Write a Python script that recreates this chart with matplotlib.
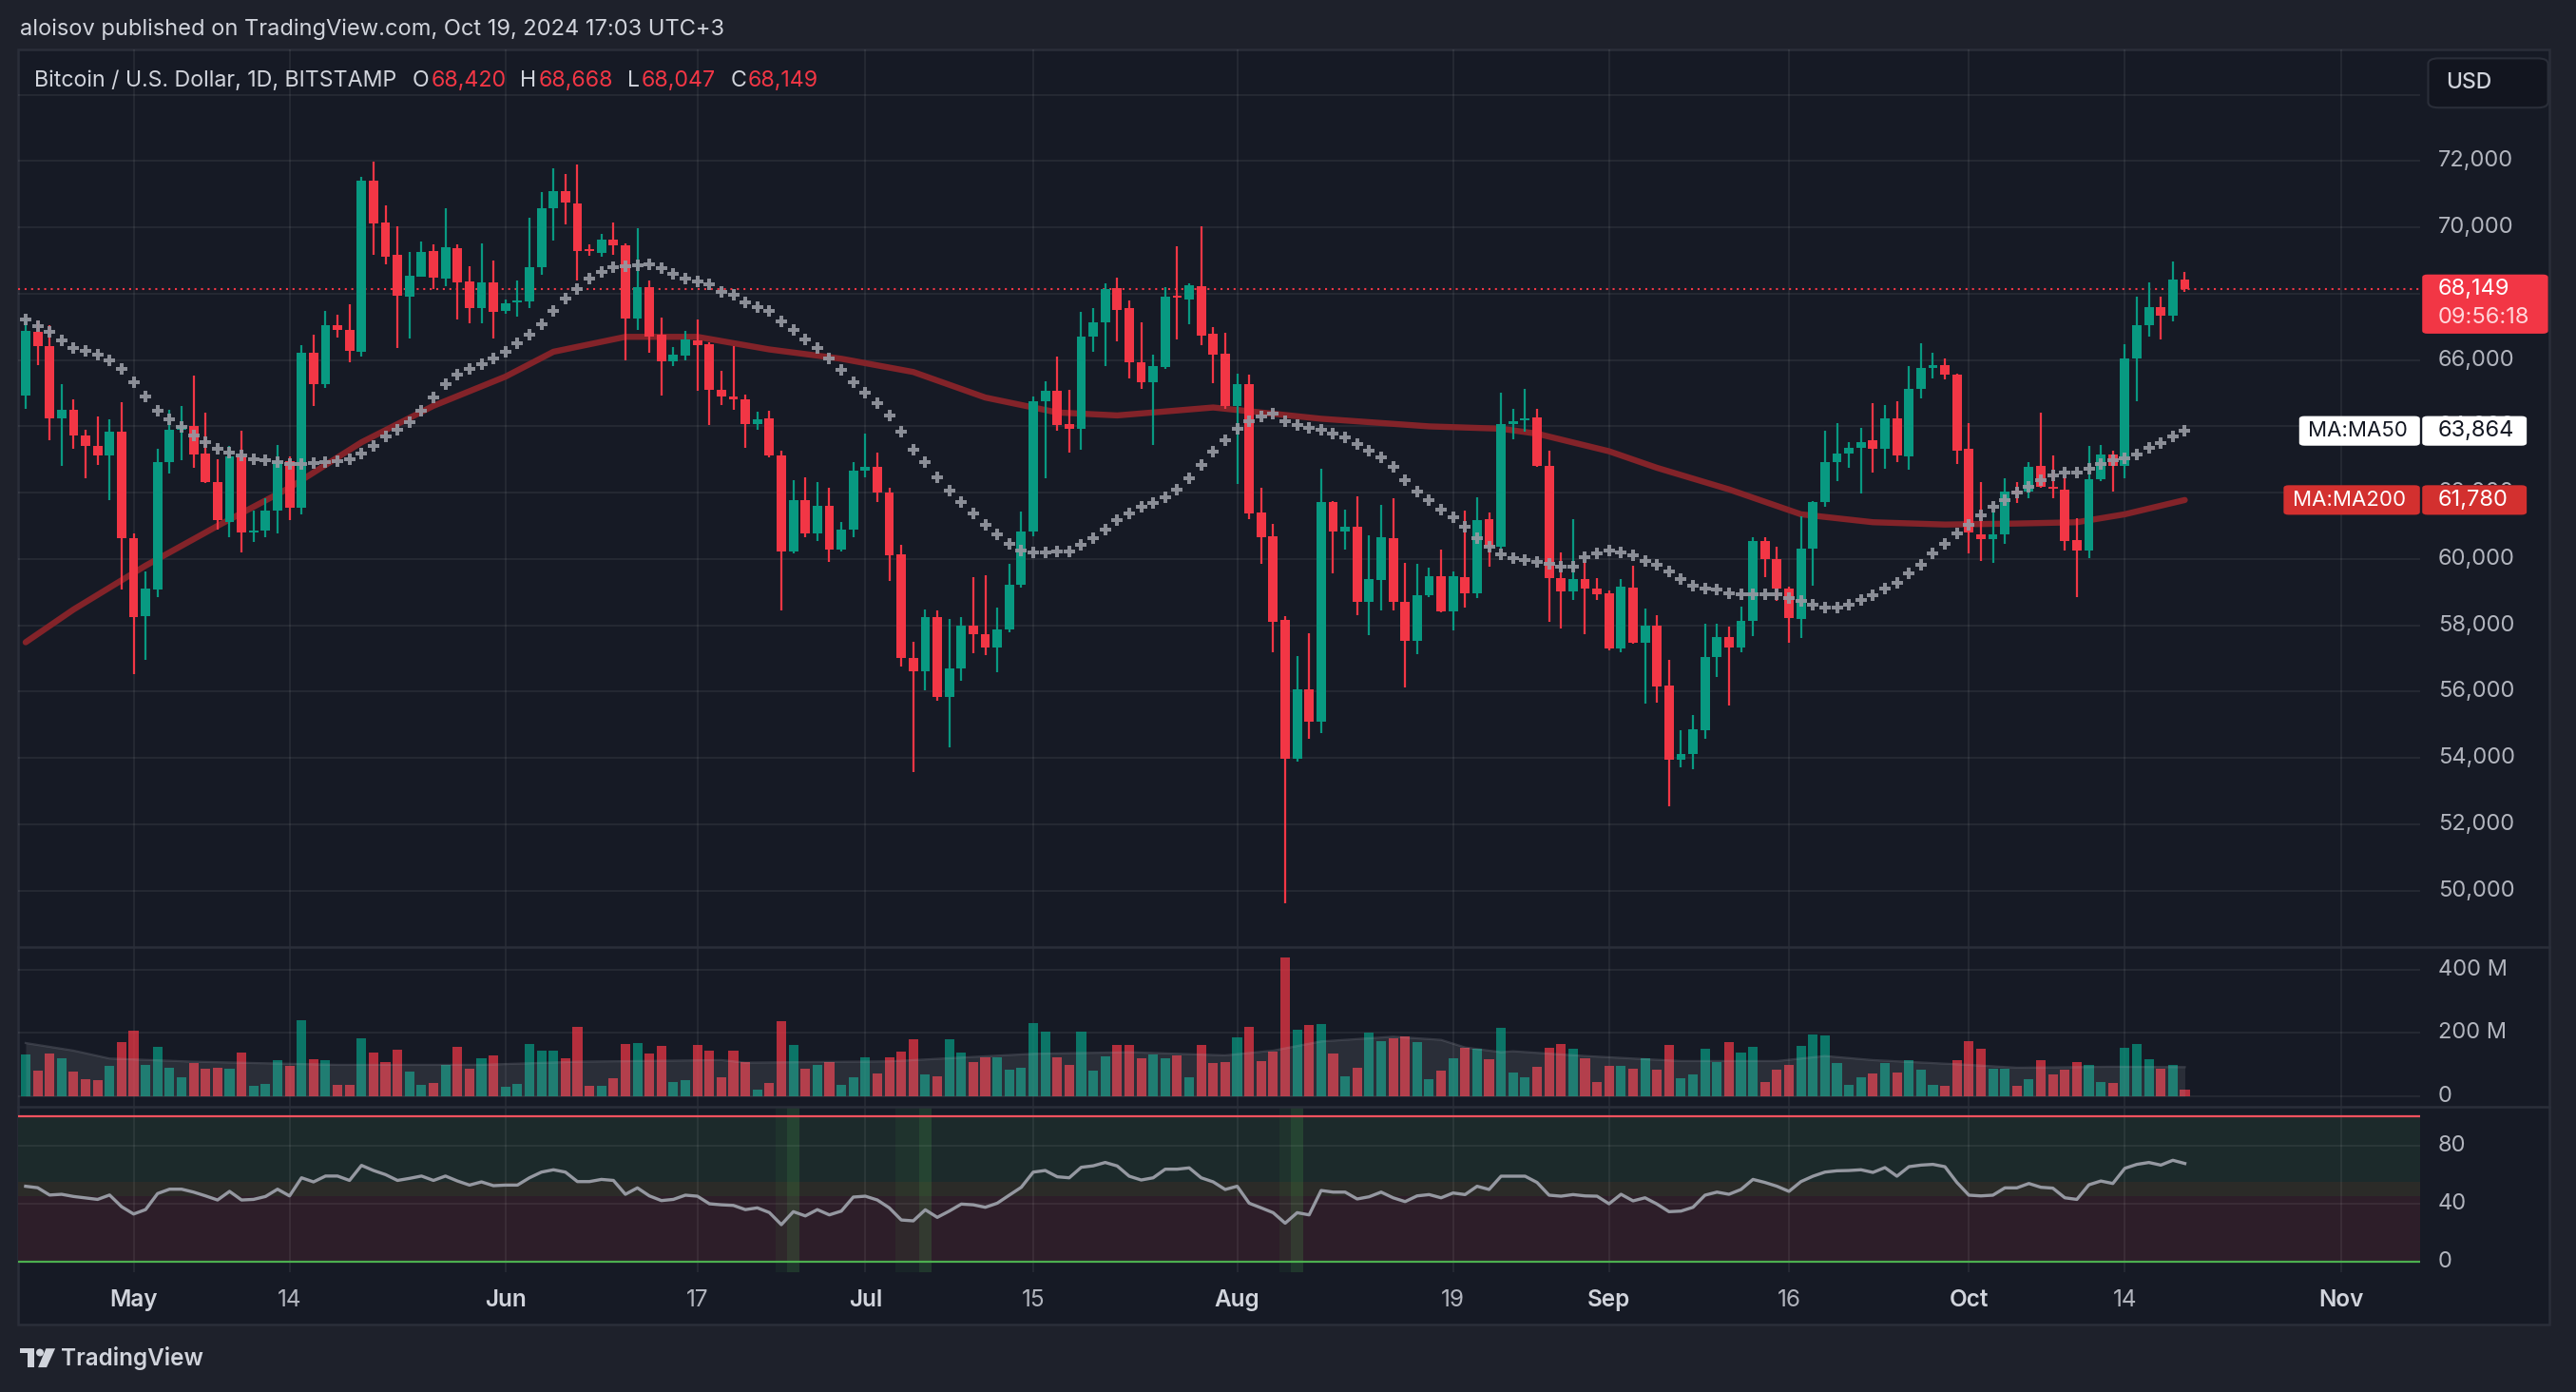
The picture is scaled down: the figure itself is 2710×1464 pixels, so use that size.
"""TradingView style chart: Bitcoin / U.S. Dollar, 1D, Bitstamp (Apr - Oct 2024)."""

import matplotlib
matplotlib.use("Agg")
import matplotlib.pyplot as plt
import matplotlib.transforms as mtransforms
from matplotlib.lines import Line2D
from matplotlib.patches import Ellipse, FancyBboxPatch, Polygon, Rectangle
import pandas as pd

plt.rcParams["font.family"] = ["Inter", "DejaVu Sans"]

# ---------------------------------------------------------------- data
START_DATE = "2024-04-22"

opens = [
    64930, 66840, 66410, 64240, 64490, 63740, 63410, 63110, 63850,
    60620, 58280, 59080, 62910, 63890, 64020, 63170, 62320, 61130, 63090,
    60800, 60860, 61460, 62950, 61550, 66230, 65260, 67050, 66920, 66240,
    71420, 70160, 69160, 67910, 68520, 69300, 68460, 69370, 68370, 67560, 68330,
    67490, 67740, 67770, 68790, 70570, 71090, 70730, 69330, 69240, 69620,
    69470, 67260, 68210, 66760, 65960, 66140, 66600, 66490, 65110, 64910,
    64820, 64080, 64240, 63130, 60240, 61790, 60770, 61600, 60280, 60880,
    62660, 62780, 62010, 60150, 57010, 56610, 58250, 55830, 56700, 58000,
    57720, 57320, 57880, 59220, 60820, 64750, 65070, 64080, 63930, 66700,
    67130, 68170, 67560, 65930, 65330, 65780, 67950, 67830, 68240, 66780, 66180,
    64610, 65280, 61410, 60680, 58160, 53990, 56060, 55110, 61730, 60840,
    60960, 58700, 59370, 60630, 58700, 57540, 58910, 59490, 58430, 59460,
    58980, 61190, 60360, 64080, 64180, 64280, 62820, 59430, 59030, 59400, 59100,
    58980, 57290, 59130, 57480, 57980, 56180, 53940, 54130, 54840, 57040,
    57640, 57320, 58130, 60550, 59990, 59100, 58190, 60300, 61730, 62910,
    63190, 63340, 63570, 63320, 64250, 63100, 65140, 65770, 65850, 65570,
    63320, 60740, 60610, 60740, 62060, 62040, 62820, 62190, 62100, 60570,
    60260, 62410, 63160, 62810, 66040, 67050, 67610, 67340, 68420,
]
highs = [
    67250, 67200, 67060, 65280, 64810, 63910, 64310, 64200, 64730,
    60780, 59630, 63330, 64510, 64620, 65520, 64400, 63000, 63410, 63880,
    61460, 61820, 63440, 63090, 66450, 66760, 67490, 67380, 67670, 71510,
    71970, 70650, 70020, 69250, 69580, 69500, 70590, 69500, 68840, 69530, 69010,
    67820, 68410, 70290, 71070, 71770, 71620, 71900, 69490, 69800, 70140,
    69520, 69990, 68400, 67280, 66390, 66880, 67230, 66540, 65680, 66420,
    64970, 64450, 64460, 63280, 62370, 62460, 62310, 62140, 61110, 62920,
    63780, 63210, 62160, 60420, 57510, 58470, 58440, 58190, 58250, 59460,
    59510, 58540, 59850, 61420, 64900, 65370, 66100, 65090, 67440, 67580,
    68310, 68490, 67790, 67130, 66150, 68210, 69440, 68310, 70020, 66980, 66810,
    65580, 65550, 62160, 61050, 58280, 57060, 57750, 62730, 61760, 61490,
    61890, 60710, 61640, 61830, 59880, 59850, 59730, 60280, 59640, 61460,
    61860, 61410, 65010, 64530, 65130, 64530, 63260, 60210, 61190, 59910, 59430,
    59060, 59400, 59790, 58500, 58310, 56970, 54840, 55300, 58060, 58040,
    57970, 58560, 60650, 60650, 60370, 59180, 61290, 61750, 63860, 64090,
    63530, 63960, 64710, 64650, 64770, 65830, 66500, 66220, 66040, 65600,
    64110, 62330, 61420, 62440, 62310, 62930, 64420, 63130, 62470, 61230,
    63410, 63430, 63260, 66470, 67900, 68350, 67900, 68960, 68668,
]
lows = [
    64540, 65850, 63580, 62810, 63330, 62430, 62830, 61770, 59080,
    56530, 56970, 58840, 62590, 62970, 62760, 62300, 60890, 60670, 60200,
    60510, 60650, 60780, 61170, 61350, 64620, 65170, 66670, 65940, 66100,
    69170, 68900, 66350, 66650, 68500, 68150, 68240, 67230, 67120, 67120, 66650,
    67390, 67300, 67580, 68570, 69590, 70090, 68410, 69140, 69120, 69180,
    65990, 66910, 66220, 64930, 65830, 65990, 65060, 64030, 64650, 64500,
    63340, 63900, 63080, 58460, 60180, 60650, 60550, 59900, 60230, 60650,
    62470, 61730, 59330, 56760, 53570, 56050, 55740, 54310, 56330, 57170,
    57100, 56580, 57790, 59150, 60700, 62440, 63880, 63220, 63310, 66260,
    65830, 66570, 65460, 65130, 63440, 65730, 66630, 67080, 66450, 65310, 64530,
    62250, 61190, 59850, 57180, 49610, 53900, 54590, 54750, 59580, 60290,
    58310, 57710, 58460, 58460, 56130, 57140, 58850, 58380, 57860, 58530,
    58830, 59760, 60300, 63600, 63830, 62780, 58110, 57900, 58760, 57740, 58760,
    57260, 57180, 57440, 55650, 55680, 52550, 53720, 53660, 54590, 56430,
    55580, 57190, 57690, 59460, 58750, 57470, 57630, 59210, 61570, 62350,
    62760, 61970, 62600, 62720, 62930, 62680, 64830, 65450, 65430, 62870,
    60180, 59950, 59870, 60450, 61690, 61820, 62140, 61820, 60260, 58850,
    60030, 62350, 62040, 62440, 64770, 66720, 66610, 67160, 68047,
]
closes = [
    66870, 66410, 64240, 64490, 63720, 63410, 63110, 63830, 60620,
    58260, 59120, 62910, 63890, 64020, 63140, 62320, 61170, 63090, 60800,
    60860, 61460, 62950, 61550, 66230, 65260, 67050, 66900, 66290, 71400,
    70130, 69120, 67930, 68550, 69270, 68480, 69390, 68330, 67560, 68330, 67450,
    67710, 67770, 68810, 70570, 71090, 70740, 69280, 69290, 69620, 69460,
    67260, 68210, 66710, 65960, 66150, 66610, 66450, 65110, 64910, 64820,
    64080, 64210, 63130, 60240, 61770, 60770, 61600, 60280, 60880, 62660,
    62780, 62010, 60110, 57030, 56610, 58250, 55830, 56700, 58000, 57720,
    57320, 57880, 59220, 60820, 64750, 65070, 64050, 63930, 66700, 67130,
    68140, 67510, 65930, 65330, 65810, 67920, 67890, 68250, 66750, 66150, 64610,
    65280, 61380, 60660, 58110, 53990, 56060, 55110, 61710, 60840, 60960,
    58700, 59390, 60650, 58700, 57540, 58910, 59490, 58430, 59490, 58980,
    61160, 60360, 64080, 64160, 64230, 62820, 59430, 59030, 59400, 59100, 58950,
    57290, 59160, 57480, 57980, 56160, 53940, 54130, 54860, 57050, 57640,
    57320, 58130, 60550, 59990, 59120, 58210, 60300, 61730, 62910, 63190,
    63340, 63530, 63320, 64240, 63130, 65140, 65750, 65850, 65550, 63280,
    60800, 60610, 60740, 62040, 61980, 62780, 62190, 62130, 60550, 60260,
    62410, 63160, 62810, 66040, 67050, 67610, 67340, 68420, 68149,
]

# daily volume, millions
volumes_m = [
    132, 82, 135, 120, 79, 55, 52, 97, 170,
    206, 99, 156, 91, 61, 105, 88, 91, 88, 138,
    34, 40, 114, 97, 241, 117, 114, 37, 37, 182,
    138, 108, 147, 79, 37, 43, 99, 156, 88, 120, 129,
    29, 40, 164, 144, 144, 120, 218, 32, 34, 58,
    164, 167, 135, 159, 46, 52, 162, 144, 61, 144,
    108, 20, 43, 238, 162, 88, 99, 108, 37, 61,
    123, 73, 123, 141, 179, 70, 64, 179, 138, 108,
    123, 123, 85, 91, 232, 203, 123, 99, 203, 82,
    126, 162, 162, 120, 132, 120, 129, 61, 162, 105, 108,
    185, 218, 111, 141, 439, 209, 224, 227, 135, 64,
    91, 200, 173, 182, 188, 170, 55, 82, 120, 153,
    150, 117, 215, 76, 61, 94, 153, 164, 150, 120, 46,
    97, 97, 88, 120, 85, 162, 58, 70, 150, 108,
    170, 138, 156, 46, 85, 99, 159, 194, 191, 105,
    37, 61, 73, 105, 76, 114, 85, 37, 34, 114,
    173, 150, 88, 88, 32, 55, 114, 70, 85, 108,
    99, 46, 43, 153, 164, 117, 88, 99, 20,
]
vol_ma_dates = [
    "2024-04-22", "2024-04-26", "2024-04-29", "2024-05-06", "2024-05-18",
    "2024-05-30", "2024-06-07", "2024-06-19", "2024-06-21", "2024-07-03",
    "2024-07-15", "2024-07-23", "2024-07-31", "2024-08-04", "2024-08-08",
    "2024-08-14", "2024-08-18", "2024-08-20", "2024-08-23", "2024-08-24",
    "2024-08-30", "2024-09-07", "2024-09-15", "2024-09-19", "2024-09-23",
    "2024-10-01", "2024-10-05", "2024-10-13", "2024-10-19",
]
vol_ma_values = [
    168, 144, 119, 109, 99, 99, 109, 114, 106, 110, 134, 139, 129, 144, 173,
    188, 178, 154, 139, 142, 127, 111, 111, 127, 114, 99, 90, 93, 92,
]

rsi_values = [
    52, 51, 46, 46.5, 45, 44, 43, 46, 38,
    33, 36, 47, 50, 50, 48, 45.4, 42.6, 48.5, 42.6,
    43, 45, 50, 45.4, 57.8, 55, 59, 59, 56, 66.3,
    62.8, 60, 56, 57.4, 59, 56, 59, 55.6, 52.8, 55, 52.4,
    52.8, 52.8, 57.8, 61.7, 63.3, 61.7, 55.2, 55.2, 56.7, 56,
    46.5, 50.9, 45.4, 42.2, 43, 45.9, 45.2, 40, 39.3, 38.9,
    36, 37.2, 34, 25.7, 34.6, 31.7, 36, 32.4, 35, 44.6,
    45.2, 42.6, 37.2, 28.9, 28.3, 35.9, 30.7, 35, 39.8, 39.3,
    37.6, 40.4, 45.9, 51.3, 61.7, 62.8, 58.5, 57.8, 65, 66,
    68.3, 65.9, 58.9, 56.3, 57.8, 63.7, 63.7, 64.6, 57.8, 55, 49.8,
    52, 40.4, 37.2, 33.9, 26.7, 33.9, 32.4, 49.1, 48, 48,
    43.3, 44.8, 48, 44.1, 41.5, 45.4, 46.3, 44.1, 47.4, 46.3,
    52, 49.8, 58.9, 58.9, 58.9, 54.6, 45.9, 45.2, 46.3, 45.4, 45.2,
    40, 46.5, 42, 44.1, 39.8, 34.6, 35, 37.6, 45.9, 48,
    46.5, 49.8, 56.7, 54.6, 52, 48.5, 55.2, 58.9, 61.7, 62.6,
    62.8, 63.3, 61.5, 64.8, 58.9, 65.4, 66.5, 67, 65.4, 54.6,
    45.9, 45.4, 45.9, 50.9, 50.9, 53.9, 51.3, 50.7, 44.1, 43,
    53, 55.6, 53.9, 64.3, 67, 68.3, 66.5, 69.8, 67.6,
]
rsi_oversold_dates = ["2024-06-24", "2024-07-04", "2024-07-05", "2024-08-05"]
rsi_recovery_dates = ["2024-06-25", "2024-07-06", "2024-08-06"]

ma50_values = [
    67220, 67030, 66850, 66600, 66350, 66270, 66160, 65980, 65720,
    65320, 64890, 64460, 64200, 63980, 63740, 63520, 63330, 63220, 63110,
    63010, 62980, 62920, 62870, 62870, 62890, 62920, 62950, 63000, 63190,
    63410, 63690, 63910, 64130, 64460, 64860, 65280, 65550, 65720, 65880, 66050,
    66240, 66510, 66760, 67070, 67470, 67860, 68150, 68460, 68650, 68810,
    68840, 68870, 68890, 68770, 68600, 68470, 68370, 68270, 68060, 67970,
    67750, 67590, 67470, 67170, 66910, 66620, 66360, 66040, 65700, 65330,
    65020, 64710, 64340, 63840, 63300, 62930, 62470, 62060, 61730, 61380,
    61040, 60730, 60460, 60260, 60210, 60210, 60240, 60240, 60420, 60630,
    60890, 61160, 61380, 61570, 61680, 61870, 62100, 62430, 62850, 63240, 63570,
    63930, 64150, 64300, 64380, 64150, 64050, 63960, 63900, 63780, 63660,
    63480, 63270, 63060, 62770, 62380, 62040, 61780, 61500, 61270, 60970,
    60630, 60360, 60150, 60030, 59980, 59910, 59850, 59770, 59770, 60060, 60180,
    60250, 60210, 60100, 59950, 59840, 59640, 59400, 59200, 59120, 59080,
    58980, 58930, 58930, 58930, 58930, 58830, 58750, 58620, 58530, 58530,
    58620, 58780, 58910, 59120, 59280, 59580, 59830, 60170, 60460, 60760,
    61040, 61320, 61570, 61790, 62000, 62190, 62390, 62510, 62600, 62620,
    62720, 62870, 62970, 63030, 63160, 63340, 63500, 63700, 63864,
]
ma200_dates = [
    "2024-04-22", "2024-04-26", "2024-05-02", "2024-05-08", "2024-05-14",
    "2024-05-20", "2024-05-26", "2024-06-01", "2024-06-05", "2024-06-11",
    "2024-06-17", "2024-06-23", "2024-06-29", "2024-07-05", "2024-07-11",
    "2024-07-17", "2024-07-22", "2024-07-30", "2024-08-08", "2024-08-17",
    "2024-08-23", "2024-08-26", "2024-09-01", "2024-09-05", "2024-09-11",
    "2024-09-17", "2024-09-23", "2024-09-29", "2024-10-05", "2024-10-10",
    "2024-10-14", "2024-10-19",
]
ma200_values = [
    57490, 58480, 59800, 61000, 62150, 63520, 64620, 65500, 66250, 66700,
    66700, 66320, 66040, 65640, 64870, 64420, 64330, 64570, 64230, 64000,
    63930, 63780, 63250, 62750, 62100, 61350, 61110, 61040, 61070, 61110,
    61350, 61780,
]

price_ticks = [50000, 52000, 54000, 56000, 58000, 60000, 62000,
               64000, 66000, 68000, 70000, 72000]
volume_ticks = [0, 200, 400]
volume_tick_labels = ["0", "200 M", "400 M"]
rsi_ticks = [0, 40, 80]
time_tick_dates = ["2024-05-01", "2024-05-14", "2024-06-01", "2024-06-17",
                   "2024-07-01", "2024-07-15", "2024-08-01", "2024-08-19",
                   "2024-09-01", "2024-09-16", "2024-10-01", "2024-10-14",
                   "2024-11-01"]
time_tick_labels = ["May", "14", "Jun", "17", "Jul", "15", "Aug", "19",
                    "Sep", "16", "Oct", "14", "Nov"]

# ---------------------------------------------------------------- style
BG_OUTER = "#1e212b"
BG_CHART = "#161a25"
BORDER = "#2a2e39"
TEXT = "#d1d4dc"
AXIS_TEXT = "#b2b5be"
UP = "#089981"
DOWN = "#f23645"
GRID_KW = dict(color="#ffffff", alpha=0.075, lw=1.2, zorder=1)
FS = 17

W_REF, H_REF = 1568, 847   # layout measured on a 1568 x 847 view


def fx(px):
    return px / W_REF


def fy(px):
    return 1 - px / H_REF


def day_index(dates):
    return list((pd.to_datetime(dates) - pd.Timestamp(START_DATE)).days)


XLIM = (-0.63, 199.6)


def make_axes(fig, top, bottom):
    ax = fig.add_axes([fx(11), fy(bottom), fx(1473) - fx(11), (bottom - top) / H_REF])
    ax.set_facecolor("none")
    ax.set_xlim(*XLIM)
    for s in ax.spines.values():
        s.set_visible(False)
    ax.set_xticks([])
    ax.set_yticks([])
    for d in day_index(time_tick_dates):
        ax.axvline(d, **GRID_KW)
    return ax


def draw_price(ax):
    x = list(range(len(closes)))
    colors = [UP if c >= o else DOWN for o, c in zip(opens, closes)]
    ax.set_ylim(48313, 75370)
    for p in range(50000, 76000, 2000):
        ax.axhline(p, **GRID_KW)
    ax.plot(day_index(ma200_dates), ma200_values, color="#832329", lw=4.6,
            solid_capstyle="round", zorder=2)
    ax.vlines(x, lows, highs, colors=colors, lw=1.6, zorder=3)
    bottoms = [min(o, c) for o, c in zip(opens, closes)]
    heights = [max(abs(c - o), 50) for o, c in zip(opens, closes)]
    ax.bar(x, heights, bottom=bottoms, width=0.78, color=colors, lw=0, zorder=3)
    ax.plot(x, ma50_values, ls="none", marker="P", ms=8.5, mew=0,
            color="#9598a1", alpha=0.92, zorder=4)
    ax.axhline(closes[-1], color=DOWN, lw=1.5, dashes=(1, 2.3), zorder=2)


def draw_volume(ax):
    x = list(range(len(closes)))
    colors = [UP if c >= o else DOWN for o, c in zip(opens, closes)]
    ax.set_ylim(-33.8, 472.7)
    for v in volume_ticks:
        ax.axhline(v, **GRID_KW)
    ax.bar(x, volumes_m, width=0.8, color=colors, alpha=0.72, lw=0, zorder=2)
    vx = day_index(vol_ma_dates)
    ax.fill_between(vx, 0, vol_ma_values, color="#b2b5be", alpha=0.13, lw=0, zorder=3)
    ax.plot(vx, vol_ma_values, color="#b2b5be", alpha=0.2, lw=1.6, zorder=3)


def draw_rsi(ax):
    x = list(range(len(rsi_values)))
    ax.set_ylim(-6.76, 106.4)
    ax.axhspan(55, 100, color="#1c2a2b", lw=0, zorder=0)
    ax.axhspan(45, 55, color="#2b2b28", lw=0, zorder=0)
    ax.axhspan(0, 45, color="#2d1e29", lw=0, zorder=0)
    for d in day_index(rsi_oversold_dates):
        ax.axvspan(d - 0.5, d + 0.5, color="#4caf50", alpha=0.07, lw=0, zorder=1)
    for d in day_index(rsi_recovery_dates):
        ax.axvspan(d - 0.5, d + 0.5, color="#4caf50", alpha=0.2, lw=0, zorder=1)
    for v in (40, 80):
        ax.axhline(v, **GRID_KW)
    ax.axhline(100, color="#f7525f", lw=1.6, zorder=2)
    ax.axhline(0, color="#4caf50", lw=1.6, zorder=2)
    ax.plot(x, rsi_values, color="#9598a1", lw=2.4, zorder=3)


def data_y_to_fig(fig, ax, value):
    _, ypix = ax.transData.transform((0, value))
    return fig.transFigure.inverted().transform((0, ypix))[1]


def add_box(fig, x0, x1, yc, up, down, face, radius=0.0):
    box = FancyBboxPatch((fx(x0), yc - down / H_REF), fx(x1) - fx(x0),
                         (up + down) / H_REF,
                         boxstyle=f"round,pad=0,rounding_size={radius}",
                         transform=fig.transFigure, facecolor=face,
                         edgecolor="none", zorder=10)
    fig.add_artist(box)


def draw_scales(fig, ax_p, ax_v, ax_r):
    lab_x = fx(1484)
    box_values = [closes[-1], ma50_values[-1], ma200_values[-1]]
    for axis, ticks, labels in (
        (ax_p, price_ticks, [f"{p:,}" for p in price_ticks]),
        (ax_v, volume_ticks, volume_tick_labels),
        (ax_r, rsi_ticks, [str(v) for v in rsi_ticks]),
    ):
        tr = mtransforms.blended_transform_factory(fig.transFigure, axis.transData)
        for v, s in zip(ticks, labels):
            t = fig.text(lab_x, v, s, transform=tr, color=AXIS_TEXT, fontsize=FS,
                         va="center", ha="left", zorder=5)
            if axis is ax_p and any(abs(v - b) < 900 for b in box_values):
                # scale label sitting under a value box: only the uncovered
                # top sliver stays visible, as on the original chart
                b = min(box_values, key=lambda bv: abs(v - bv))
                top = data_y_to_fig(fig, ax_p, b) + 9 / H_REF
                clip = mtransforms.Bbox.from_extents(0, top, 1, 1)
                t.set_clip_box(mtransforms.TransformedBbox(clip, fig.transFigure))
                t.set_clip_on(True)

    # current price box
    yc = data_y_to_fig(fig, ax_p, closes[-1])
    add_box(fig, 1474.4, 1551, yc, 8.7, 27.3, "#f23645", radius=0.002)
    fig.text(lab_x, yc, f"{closes[-1]:,}", color="white", fontsize=FS,
             va="center", ha="left", zorder=11)
    fig.text(lab_x, yc - 17.3 / H_REF, "09:56:18", color="#ffd6da", fontsize=FS,
             va="center", ha="left", zorder=11)

    # moving average labels
    for name, value, face, fg, left in (
        ("MA:MA50", ma50_values[-1], "#ffffff", "#131722", 1399.5),
        ("MA:MA200", ma200_values[-1], "#d3302f", "#ffffff", 1390.0),
    ):
        yc = data_y_to_fig(fig, ax_p, value)
        add_box(fig, left, 1473, yc, 9, 9, face, radius=0.002)
        add_box(fig, 1474.4, 1538, yc, 9, 9, face, radius=0.002)
        fig.text(fx(left + 5.5), yc, name, color=fg, fontsize=FS - 1,
                 va="center", ha="left", zorder=11)
        fig.text(lab_x, yc, f"{value:,}", color=fg, fontsize=FS,
                 va="center", ha="left", zorder=11)

    # currency button
    usd = FancyBboxPatch((fx(1478), fy(65.5)), fx(1551) - fx(1478), 30 / H_REF,
                         boxstyle="round,pad=0,rounding_size=0.004",
                         transform=fig.transFigure, facecolor="#12151f",
                         edgecolor=BORDER, lw=1.5, zorder=10)
    fig.add_artist(usd)
    fig.text(fx(1489), fy(50.5), "USD", color=TEXT, fontsize=FS - 0.5,
             fontweight="medium", va="center", ha="left", zorder=11)

    # time axis
    tr = mtransforms.blended_transform_factory(ax_r.transData, fig.transFigure)
    for d, s in zip(day_index(time_tick_dates), time_tick_labels):
        is_month = not s.isdigit()
        fig.text(d, fy(791), s, transform=tr, ha="center", va="center",
                 fontsize=FS + 0.5, color=TEXT if is_month else AXIS_TEXT,
                 fontweight="semibold" if is_month else "normal")


def draw_header(fig):
    fig.text(fx(12), fy(18), "aloisov published on TradingView.com, Oct 19, 2024 17:03 UTC+3",
             color=TEXT, fontsize=17, va="center", ha="left")
    renderer = fig.canvas.get_renderer()
    width_px = fig.get_size_inches()[0] * fig.dpi
    xpix = fx(21) * width_px
    pieces = [
        ("Bitcoin / U.S. Dollar, 1D, BITSTAMP", TEXT, 16),
        ("O", TEXT, 2), (f"{opens[-1]:,}", DOWN, 15),
        ("H", TEXT, 2), (f"{highs[-1]:,}", DOWN, 15),
        ("L", TEXT, 2), (f"{lows[-1]:,}", DOWN, 15),
        ("C", TEXT, 2), (f"{closes[-1]:,}", DOWN, 0),
    ]
    for text, color, gap in pieces:
        t = fig.text(xpix / width_px, fy(49), text, color=color, fontsize=16.7,
                     va="center", ha="left", zorder=6)
        xpix = t.get_window_extent(renderer=renderer).x1 + gap


def draw_footer(fig):
    kw = dict(transform=fig.transFigure, facecolor=TEXT, edgecolor="none")
    fig.add_artist(Rectangle((fx(12), fy(823.5)), fx(21) - fx(12), 3 / H_REF, **kw))
    fig.add_artist(Rectangle((fx(16.8), fy(832)), fx(20.8) - fx(16.8), 11.5 / H_REF, **kw))
    fig.add_artist(Ellipse((fx(24.3), fy(823.0)), fx(4.6), 4.6 / H_REF, **kw))
    fig.add_artist(Polygon([(fx(28.0), fy(820.5)), (fx(33.6), fy(820.5)),
                            (fx(28.4), fy(832)), (fx(23.2), fy(832))], **kw))
    fig.text(fx(37), fy(826.5), "TradingView", color=TEXT, fontsize=17.5,
             fontweight="semibold", va="center", ha="left")


def main():
    fig = plt.figure(figsize=(27.1, 14.64), dpi=100, facecolor=BG_OUTER)

    frame = Rectangle((fx(11), fy(806)), fx(1552) - fx(11), (806 - 30) / H_REF,
                      transform=fig.transFigure, facecolor=BG_CHART,
                      edgecolor=BORDER, lw=1.8, zorder=-1)
    fig.add_artist(frame)
    for y in (576, 673.5):
        fig.add_artist(Line2D([fx(11), fx(1552)], [fy(y), fy(y)],
                              transform=fig.transFigure, color=BORDER, lw=1.8))

    ax_price = make_axes(fig, 30, 576)
    ax_vol = make_axes(fig, 576, 673.5)
    ax_rsi = make_axes(fig, 673.5, 774)

    draw_price(ax_price)
    draw_volume(ax_vol)
    draw_rsi(ax_rsi)
    draw_scales(fig, ax_price, ax_vol, ax_rsi)
    draw_header(fig)
    draw_footer(fig)

    fig.savefig("out.png", dpi=100, facecolor=BG_OUTER)
    plt.close(fig)


if __name__ == "__main__":
    main()
